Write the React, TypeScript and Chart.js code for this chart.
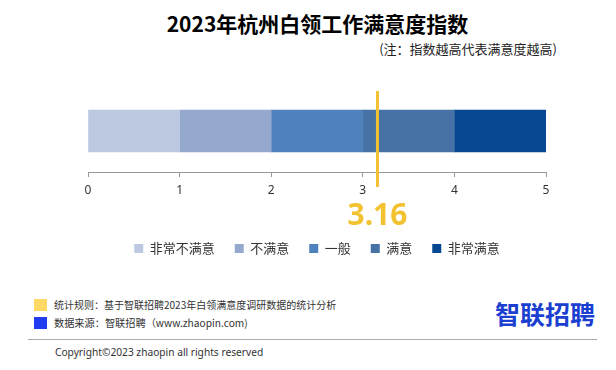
import React, { useEffect, useRef } from 'react';
import { Chart, registerables } from 'chart.js';

Chart.register(...registerables);

const categories = ['满意度指数'];
const seriesNames = ['非常不满意', '不满意', '一般', '满意', '非常满意'];
const seriesValues = [1, 1, 1, 1, 1];
const seriesColors = ['#BDC9E1', '#95A9CF', '#4F81BD', '#4672A5', '#064791'];
const xTickValues = [0, 1, 2, 3, 4, 5];
const scoreValue = 3.16;
const scoreLabel = '3.16';

const titleText = '2023年杭州白领工作满意度指数';
const noteText = '(注：指数越高代表满意度越高)';
const ruleText = '统计规则：基于智联招聘2023年白领满意度调研数据的统计分析';
const sourceText = '数据来源：智联招聘（www.zhaopin.com)';
const copyrightText = 'Copyright©2023 zhaopin all rights reserved';
const logoText = '智联招聘';

const YELLOW = '#F3C230';

const markerPlugin = {
  id: 'scoreMarker',
  afterDraw(chart: any) {
    const { ctx, chartArea, scales } = chart;
    const px = scales.x.getPixelForValue(scoreValue);
    ctx.save();
    ctx.strokeStyle = YELLOW;
    ctx.lineWidth = 3;
    ctx.beginPath();
    ctx.moveTo(px, chartArea.top + 1);
    ctx.lineTo(px, chartArea.bottom + 15);
    ctx.stroke();
    ctx.fillStyle = YELLOW;
    ctx.font = 'bold 30px "Noto Sans"';
    ctx.textAlign = 'center';
    ctx.textBaseline = 'alphabetic';
    ctx.fillText(scoreLabel, px, chartArea.bottom + 53);
    ctx.restore();
  },
};

function BarChart() {
  const ref = useRef<HTMLCanvasElement | null>(null);
  useEffect(() => {
    if (!ref.current) return;
    const chart = new Chart(ref.current, {
      type: 'bar',
      data: {
        labels: categories,
        datasets: seriesNames.map((name, i) => ({
          label: name,
          data: [seriesValues[i]],
          backgroundColor: seriesColors[i],
          borderWidth: 0,
          barThickness: 42,
        })),
      },
      options: {
        indexAxis: 'y',
        animation: false,
        responsive: false,
        maintainAspectRatio: false,
        layout: { padding: { top: 30, left: 70, right: 70, bottom: 5 } },
        scales: {
          x: {
            stacked: true,
            min: xTickValues[0],
            max: xTickValues[xTickValues.length - 1],
            afterBuildTicks: (scale: any) => {
              scale.ticks = xTickValues.map((v) => ({ value: v }));
            },
            ticks: {
              color: '#333',
              font: { family: '"Noto Sans"', size: 12 },
              padding: 6,
            },
            grid: {
              display: true,
              drawOnChartArea: false,
              drawTicks: true,
              tickLength: 5,
              color: '#999',
            },
            border: { display: true, color: '#999' },
            afterFit: (scale: any) => {
              scale.height = 50;
            },
          },
          y: { stacked: true, display: false },
        },
        plugins: {
          legend: {
            position: 'bottom',
            labels: {
              boxWidth: 9,
              boxHeight: 9,
              padding: 20,
              color: '#333',
              font: { family: '"Noto Sans CJK SC"', size: 13 },
            },
          },
          tooltip: { enabled: false },
        },
      } as any,
      plugins: [markerPlugin],
    });
    return () => chart.destroy();
  }, []);
  return (
    <canvas
      ref={ref}
      width={598}
      height={210}
      style={{ position: 'absolute', left: 18, top: 60, width: 598, height: 210 }}
    />
  );
}

export default function App() {
  const cjk = '"Noto Sans CJK SC", "Noto Sans", sans-serif';
  return (
    <div
      style={{
        position: 'fixed',
        left: 0,
        top: 0,
        width: 616,
        height: 370,
        background: '#fff',
        overflow: 'hidden',
        fontFamily: cjk,
        color: '#222',
      }}
    >
      <div
        style={{
          position: 'absolute',
          left: 0,
          width: 635,
          top: 13,
          textAlign: 'center',
          fontWeight: 700,
          fontSize: 21,
          lineHeight: '21px',
          color: '#000',
          whiteSpace: 'nowrap',
        }}
      >
        {titleText}
      </div>
      <div
        style={{
          position: 'absolute',
          right: 59,
          top: 42,
          fontSize: 13,
          lineHeight: '13px',
          color: '#222',
          whiteSpace: 'nowrap',
        }}
      >
        {noteText}
      </div>
      <BarChart />
      <div style={{ position: 'absolute', left: 34, top: 299, width: 13, height: 12, background: '#FFD966' }} />
      <div style={{ position: 'absolute', left: 34, top: 317, width: 13, height: 12, background: '#1E3CF0' }} />
      <div
        style={{ position: 'absolute', left: 54, top: 300, fontSize: 10, lineHeight: '10px', color: '#333', whiteSpace: 'nowrap' }}
      >
        {ruleText}
      </div>
      <div
        style={{ position: 'absolute', left: 54, top: 318, fontSize: 10.2, lineHeight: '10px', color: '#333', whiteSpace: 'nowrap' }}
      >
        {sourceText}
      </div>
      <div style={{ position: 'absolute', left: 28, top: 339, width: 569, height: 1, background: '#aaa' }} />
      <div
        style={{
          position: 'absolute',
          left: 55,
          top: 347,
          fontSize: 10.2,
          lineHeight: '10px',
          color: '#333',
          whiteSpace: 'nowrap',
          fontFamily: '"Noto Sans", sans-serif',
        }}
      >
        {copyrightText}
      </div>
      <div
        style={{
          position: 'absolute',
          left: 495,
          top: 301,
          fontSize: 25,
          lineHeight: '25px',
          fontWeight: 700,
          color: '#1B3FD1',
          whiteSpace: 'nowrap',
        }}
      >
        {logoText}
      </div>
    </div>
  );
}
